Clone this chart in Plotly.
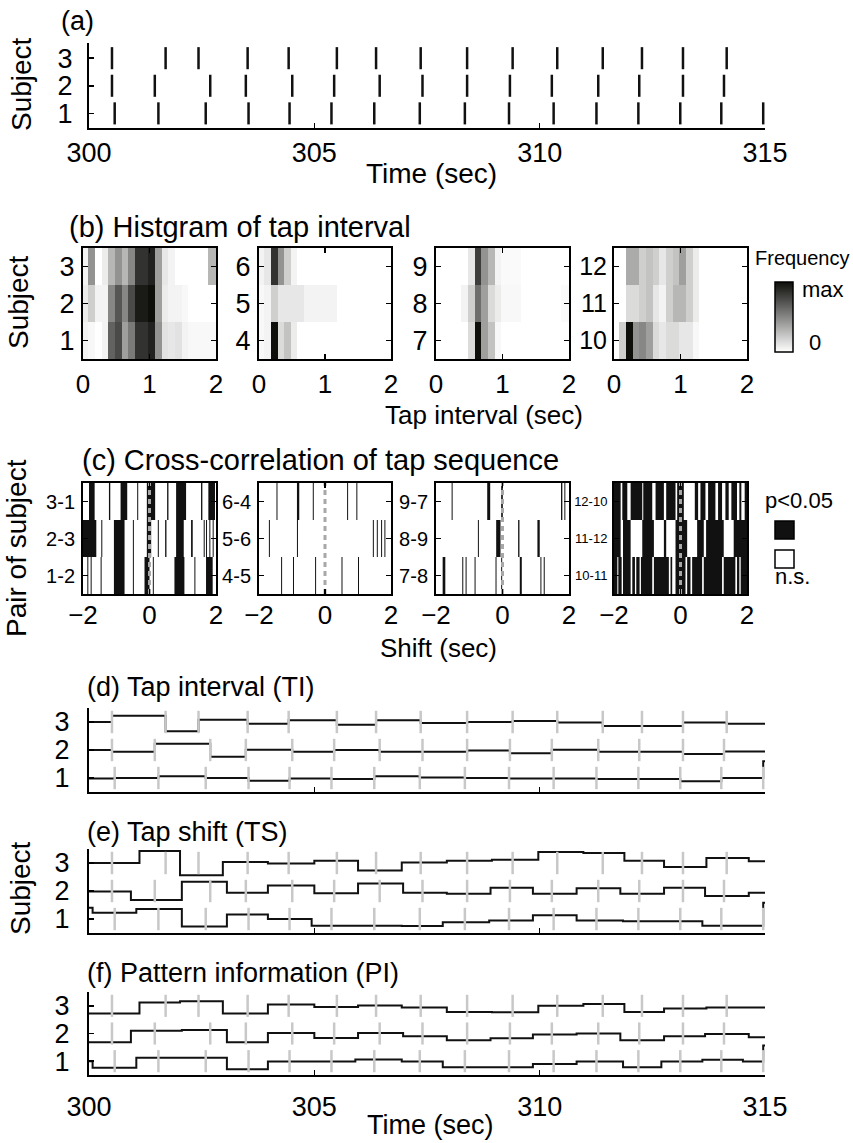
import plotly.graph_objects as go

W, H = 853, 1143
FONT = "Liberation Sans, Arial, Helvetica, sans-serif"
BLACK = "#111111"
GRAY = "#c8c8c8"

# ---------------- data ----------------
time_ticks = [300, 305, 310, 315]
subject_rows = [1, 2, 3]

# (a) tap times (sec)
taps_s1 = [300.57, 301.54, 302.59, 303.54, 304.45, 305.38, 306.33, 307.34, 308.34,
           309.32, 310.31, 311.26, 312.19, 313.12, 314.03, 314.96]
taps_s2 = [300.51, 301.46, 302.69, 303.48, 304.51, 305.44, 306.45, 307.40, 308.39,
           309.34, 310.27, 311.30, 312.21, 313.18, 314.09]
taps_s3 = [300.51, 301.70, 302.43, 303.52, 304.43, 305.50, 306.37, 307.36, 308.39,
           309.40, 310.39, 311.40, 312.27, 313.18, 314.15]

# (b) histogram of tap interval (normalised frequency), bin edges in sec
hist_edges = [-0.02, 0.08, 0.18, 0.28, 0.38, 0.48, 0.58, 0.68, 0.78, 0.88, 0.98,
              1.08, 1.18, 1.28, 1.38, 1.48, 1.58, 1.68, 1.78, 1.88, 1.98, 2.08]
hist_subj_1 = [0.05, 0.03, 0.0, 0.05, 0.65, 0.75, 0.4, 0.55, 0.85, 0.85, 0.92, 0.45, 0.12, 0.1, 0.12, 0.05, 0.03, 0.03, 0.03, 0.03, 0.03]
hist_subj_2 = [0.08, 0.2, 0.05, 0.05, 0.5, 0.7, 0.5, 0.75, 0.95, 0.95, 1.0, 0.4, 0.08, 0.05, 0.05, 0.03, 0, 0, 0, 0, 0]
hist_subj_3 = [0.05, 0.45, 0.0, 0.08, 0.3, 0.45, 0.3, 0.5, 0.85, 0.85, 0.92, 0.4, 0.1, 0.05, 0, 0, 0, 0, 0, 0.3, 0.3]
hist_subj_4 = [0.03, 0.05, 1.0, 0.15, 0.25, 0.08, 0, 0, 0, 0, 0, 0, 0, 0, 0, 0, 0, 0, 0, 0, 0]
hist_subj_5 = [0.03, 0.05, 0.2, 0.1, 0.1, 0.1, 0.1, 0.05, 0.05, 0.05, 0.05, 0.05, 0, 0, 0, 0, 0, 0, 0, 0, 0]
hist_subj_6 = [0.05, 0.1, 0.85, 0.45, 0.2, 0.05, 0, 0, 0, 0, 0, 0, 0, 0, 0, 0, 0, 0, 0, 0, 0]
hist_subj_7 = [0, 0, 0, 0, 0, 0.15, 1.0, 0.4, 0.25, 0.03, 0, 0, 0, 0, 0, 0, 0, 0, 0, 0, 0]
hist_subj_8 = [0, 0, 0, 0, 0.05, 0.2, 0.6, 0.4, 0.15, 0.08, 0.03, 0.03, 0.03, 0, 0, 0, 0, 0, 0, 0.02, 0.02]
hist_subj_9 = [0, 0, 0, 0, 0, 0.1, 0.8, 0.45, 0.3, 0.05, 0.02, 0.02, 0.02, 0, 0, 0, 0, 0, 0, 0, 0]
hist_subj_10 = [0, 0.2, 1.0, 0.45, 0.5, 0.4, 0.15, 0.1, 0.15, 0.15, 0.1, 0.1, 0.03, 0, 0, 0, 0, 0, 0, 0, 0]
hist_subj_11 = [0, 0, 0.15, 0.15, 0.2, 0.25, 0.1, 0.05, 0.2, 0.3, 0.3, 0.2, 0.08, 0, 0, 0, 0, 0, 0, 0, 0]
hist_subj_12 = [0, 0, 0.35, 0.35, 0.2, 0.25, 0.2, 0.1, 0.2, 0.25, 0.4, 0.2, 0.08, 0, 0, 0, 0, 0, 0, 0, 0]
hist_groups = [[1, 2, 3], [4, 5, 6], [7, 8, 9], [10, 11, 12]]
hist_ticks = [0, 1, 2]

# (c) significant (p<0.05) shift intervals [start, end] in sec, per pair
cc_pair_labels = [["1-2", "2-3", "3-1"], ["4-5", "5-6", "6-4"],
                  ["7-8", "8-9", "9-7"], ["10-11", "11-12", "12-10"]]
cc_1_2 = [[-1.87, -1.84], [-1.77, -1.74], [-1.47, -1.44], [-1.07, -0.75], [-0.5, -0.47],
          [-0.15, 0.0], [0.1, 0.13], [0.75, 1.05], [1.35, 1.38], [1.70, 1.90]]
cc_2_3 = [[-2.0, -1.6], [-1.45, -1.42], [-1.07, -0.75], [-0.5, -0.47], [-0.08, 0.05],
          [0.25, 0.28], [0.47, 0.51], [0.80, 1.03], [1.25, 1.30], [1.63, 1.66],
          [1.70, 1.73], [1.80, 1.83], [1.90, 1.93]]
cc_3_1 = [[-1.82, -1.65], [-1.22, -1.18], [-0.87, -0.67], [-0.37, -0.34], [-0.08, 0.17],
          [0.53, 0.57], [0.80, 1.10], [1.55, 1.59], [1.77, 1.97]]
cc_4_5 = [[-1.33, -1.30], [-0.97, -0.94], [-0.30, -0.27], [0.50, 0.53], [1.00, 1.03]]
cc_5_6 = [[-1.70, -1.67], [-0.85, -0.82], [1.45, 1.48], [1.57, 1.60], [1.70, 1.73], [1.80, 1.83]]
cc_6_4 = [[-1.47, -1.44], [-0.85, -0.78], [-0.37, -0.34], [0.67, 0.70], [0.95, 0.98]]
cc_7_8 = [[-1.80, -1.72], [-1.21, -1.18], [-1.11, -1.08], [-0.84, -0.81], [-0.21, -0.18],
          [-0.04, -0.01], [0.52, 0.58], [1.14, 1.17], [1.24, 1.27]]
cc_8_9 = [[-0.74, -0.71], [-0.19, -0.06], [0.47, 0.51], [1.05, 1.12]]
cc_9_7 = [[-1.53, -1.50], [-0.46, -0.37], [-0.04, 0.01], [1.76, 1.80], [1.86, 1.89]]
cc_10_11 = [[-2.0, -1.9], [-1.87, -1.77], [-1.73, -1.5], [-1.45, -1.37], [-1.33, -1.23],
            [-1.19, -0.85], [-0.8, -0.35], [-0.3, -0.25], [-0.15, 0.15], [0.2, 0.3],
            [0.35, 0.65], [0.7, 1.25], [1.3, 1.65], [1.7, 1.77], [1.81, 2.0]]
cc_11_12 = [[-2.0, -1.8], [-1.73, -1.5], [-1.15, -0.8], [-0.5, -0.43], [-0.15, 0.2],
            [0.5, 0.7], [0.77, 1.3], [1.6, 2.0]]
cc_12_10 = [[-2.0, -1.8], [-1.75, -1.6], [-1.5, -1.15], [-1.12, -0.85], [-0.75, -0.5],
            [-0.43, -0.15], [-0.1, 0.1], [0.43, 0.53], [0.6, 0.75], [0.83, 1.05],
            [1.13, 1.25], [1.35, 1.45], [1.53, 1.7], [1.77, 1.83], [1.93, 2.0]]
cc_panels = [[cc_1_2, cc_2_3, cc_3_1], [cc_4_5, cc_5_6, cc_6_4],
             [cc_7_8, cc_8_9, cc_9_7], [cc_10_11, cc_11_12, cc_12_10]]
shift_ticks = [-2, 0, 2]

# (d) tap interval: level per segment between taps (offset from subject row)
ti_s1 = [-0.02, 0.0, 0.06, 0.0, -0.10, -0.02, -0.04, 0.06, 0.02, 0.0, -0.02, -0.02,
         -0.04, -0.04, -0.12, 0.0, 0.6]
ti_s2 = [0.0, -0.06, 0.22, -0.24, 0.01, -0.06, 0.0, -0.06, -0.06, -0.02, -0.12, 0.01,
         -0.06, -0.06, -0.14, -0.05]
ti_s3 = [0.0, 0.22, -0.33, 0.08, -0.06, 0.06, -0.10, 0.06, -0.04, 0.0, 0.04, -0.02,
         -0.14, -0.14, -0.02, -0.06]

# (e),(f) change times of tap shift / pattern information
tsp_breaks_s1 = [300.08, 301.05, 302.06, 303.06, 303.97, 304.94, 305.91, 306.94, 307.85,
                 308.88, 309.85, 310.82, 311.85, 312.70, 313.61, 314.51, 314.96]
tsp_breaks_s2 = [300.93, 302.06, 303.06, 303.97, 305.00, 305.97, 306.97, 307.94, 308.91,
                 309.85, 310.82, 311.79, 312.76, 313.67, 314.64]
tsp_breaks_s3 = [301.12, 302.02, 302.97, 303.97, 305.00, 305.97, 306.94, 307.94, 308.94,
                 309.97, 310.97, 311.88, 312.76, 313.70, 314.64]
# (e) tap shift levels
ts_s1 = [0.4, 0.22, 0.36, -0.27, 0.16, 0.0, -0.24, -0.24, -0.25, -0.12, -0.05, 0.13,
         -0.05, -0.08, -0.08, -0.24, -0.24, 0.58]
ts_s2 = [-0.02, -0.32, 0.33, -0.06, 0.20, -0.08, 0.27, -0.06, -0.10, 0.12, -0.10, 0.10,
         -0.10, 0.12, -0.18, -0.06]
ts_s3 = [0.0, 0.43, -0.44, 0.04, -0.02, 0.08, -0.27, 0.02, 0.08, 0.12, 0.39, 0.36, 0.08,
         -0.14, 0.18, 0.06]
# (f) pattern information levels
pi_s1 = [0.0, -0.24, 0.12, 0.12, -0.29, -0.01, -0.01, 0.06, -0.01, -0.22, -0.22, -0.10,
         -0.01, -0.22, -0.01, 0.05, -0.01, 0.57]
pi_s2 = [-0.32, 0.10, 0.13, -0.32, 0.02, -0.16, 0.02, -0.10, -0.24, -0.17, -0.04, 0.0,
         -0.24, -0.10, -0.02, -0.14]
pi_s3 = [-0.28, 0.12, 0.17, -0.28, 0.05, -0.04, 0.01, -0.06, -0.22, -0.23, 0.0, 0.07,
         -0.22, -0.10, -0.06, -0.06]

# ---------------- helpers ----------------
def px(x):
    return x / W


def py(y):
    return 1 - y / H


def seg_lines(times, center, half):
    xs, ys = [], []
    for t in times:
        xs += [t, t, None]
        ys += [center - half, center + half, None]
    return xs, ys


layout = dict(width=W, height=H, margin=dict(l=0, r=0, t=0, b=0, pad=0, autoexpand=False),
              paper_bgcolor="white", plot_bgcolor="white", showlegend=False,
              barmode="overlay", font=dict(family=FONT, color="black"))
fig = go.Figure()


def axname(n, kind):
    return f"{kind}axis" if n == 1 else f"{kind}axis{n}"


def ref(n, kind):
    return kind if n == 1 else f"{kind}{n}"


def set_axes(n, xdom, ydom, xrange, yrange, xt, yt, xtext=None, ytext=None,
             box=False, xlabels=True, fs=26, yfs=26, xstand=8, ystand=10):
    common = dict(showline=True, linecolor="black", linewidth=2, ticks="inside",
                  ticklen=5, tickwidth=1.5, tickcolor="black", showgrid=False,
                  zeroline=False, mirror="ticks" if box else False, fixedrange=True,
                  automargin=False)
    layout[axname(n, "x")] = dict(common, domain=[px(xdom[0]), px(xdom[1])], range=xrange,
                                  tickvals=xt, ticktext=xtext, anchor=ref(n, "y"),
                                  showticklabels=xlabels, ticklabelstandoff=xstand,
                                  tickfont=dict(size=fs, family=FONT, color="black"))
    layout[axname(n, "y")] = dict(common, domain=[py(ydom[1]), py(ydom[0])], range=yrange,
                                  tickvals=yt, ticktext=ytext, anchor=ref(n, "x"),
                                  ticklabelstandoff=ystand,
                                  tickfont=dict(size=yfs, family=FONT, color="black"))


LONG_X = [89, 765]

# ---------------- (a) raster ----------------
set_axes(1, LONG_X, [43, 128], [300, 315], [0.47, 3.55], time_ticks, subject_rows,
         fs=27, yfs=27, xstand=0, ystand=9)
for taps, s in [(taps_s1, 1), (taps_s2, 2), (taps_s3, 3)]:
    xs, ys = seg_lines(taps, s, 0.4)
    fig.add_trace(go.Scatter(x=xs, y=ys, mode="lines", line=dict(color=BLACK, width=2.5),
                             xaxis="x", yaxis="y", hoverinfo="skip"))

# ---------------- (b) histograms ----------------
B_X = [[83, 216], [259, 391], [436, 569], [614, 747]]
hist_all = {1: hist_subj_1, 2: hist_subj_2, 3: hist_subj_3, 4: hist_subj_4,
            5: hist_subj_5, 6: hist_subj_6, 7: hist_subj_7, 8: hist_subj_8,
            9: hist_subj_9, 10: hist_subj_10, 11: hist_subj_11, 12: hist_subj_12}
cscale = [[0, "#ffffff"], [1, "#0e0f0b"]]
for i, grp in enumerate(hist_groups):
    n = 2 + i
    set_axes(n, B_X[i], [248, 359], [0, 2], [grp[0] - 0.5, grp[2] + 0.5], hist_ticks, grp,
             box=True, xstand=1, ystand=1 if i < 3 else 0, fs=26, yfs=27 if i < 3 else 25)
    fig.add_trace(go.Heatmap(
        x=hist_edges, y=grp, z=[hist_all[s] for s in grp], zmin=0, zmax=1,
        colorscale=cscale, showscale=(i == 0), xaxis=ref(n, "x"), yaxis=ref(n, "y"),
        hoverinfo="skip",
        colorbar=dict(x=px(775), xanchor="left", y=py(317), yanchor="middle",
                      len=70, lenmode="pixels", thickness=18, thicknessmode="pixels",
                      outlinewidth=1.5, outlinecolor="black", showticklabels=False,
                      ticks="", xpad=0, ypad=0)))

# ---------------- (c) cross-correlation ----------------
for i in range(4):
    n = 6 + i
    set_axes(n, B_X[i], [483, 594], [-2, 2], [0.5, 3.5], shift_ticks, [1, 2, 3],
             ytext=cc_pair_labels[i], box=True, xstand=-3, ystand=2, fs=26,
             yfs=20 if i < 3 else 13)
    for r, rows in enumerate(cc_panels[i]):
        fig.add_trace(go.Bar(orientation="h", y=[r + 1] * len(rows),
                             base=[a for a, b in rows], x=[b - a for a, b in rows],
                             width=1.0, marker=dict(color=BLACK, line=dict(width=0)),
                             xaxis=ref(n, "x"), yaxis=ref(n, "y"), hoverinfo="skip"))
    fig.add_trace(go.Scatter(x=[0, 0], y=[0.5, 3.5], mode="lines",
                             line=dict(color="#a8a8a8", width=3, dash="5px,4px"),
                             xaxis=ref(n, "x"), yaxis=ref(n, "y"), hoverinfo="skip"))

# ---------------- (d),(e),(f) step traces ----------------
step_panels = [
    (10, [708, 792], [(taps_s1, ti_s1), (taps_s2, ti_s2), (taps_s3, ti_s3)], False),
    (11, [849, 933], [(tsp_breaks_s1, ts_s1), (tsp_breaks_s2, ts_s2), (tsp_breaks_s3, ts_s3)], False),
    (12, [992, 1075], [(tsp_breaks_s1, pi_s1), (tsp_breaks_s2, pi_s2), (tsp_breaks_s3, pi_s3)], True),
]
for n, ydom, series, lab in step_panels:
    set_axes(n, LONG_X, ydom, [300, 315], [0.5, 3.5], time_ticks, subject_rows,
             xlabels=lab, fs=27, yfs=27, xstand=7, ystand=12)
    for s, (brk, vals) in enumerate(series, start=1):
        xs = [300] + brk + [315]
        ys = [s + v for v in vals] + [s + vals[-1]]
        fig.add_trace(go.Scatter(x=xs, y=ys, mode="lines", line=dict(color=BLACK, width=2, shape="hv"),
                                 xaxis=ref(n, "x"), yaxis=ref(n, "y"), hoverinfo="skip"))
    for taps, s in [(taps_s1, 1), (taps_s2, 2), (taps_s3, 3)]:
        xs, ys = seg_lines(taps, s, 0.4)
        fig.add_trace(go.Scatter(x=xs, y=ys, mode="lines", line=dict(color=GRAY, width=2.5),
                                 xaxis=ref(n, "x"), yaxis=ref(n, "y"), hoverinfo="skip"))

# ---------------- text ----------------
ann = []


def text(t, x, y, size=27, anchor="center", angle=0):
    ann.append(dict(text=t, x=px(x), y=py(y), xref="paper", yref="paper", showarrow=False,
                    xanchor=anchor, yanchor="middle", textangle=angle,
                    font=dict(size=size, family=FONT, color="black")))


text("(a)", 77, 21, 27)
text("Subject", 22, 84, 28, angle=-90)
text("Time (sec)", 432, 173, 28)
text("(b) Histgram of tap interval", 67, 227, 29, "left")
text("Subject", 18, 302, 28, angle=-90)
text("Tap interval (sec)", 484, 415, 26)
text("Frequency", 753, 258, 20, "left")
text("max", 800, 289, 22, "left")
text("0", 807, 343, 22, "left")
text("(c) Cross-correlation of tap sequence", 80, 460, 29, "left")
text("Pair of subject", 16, 548, 28, angle=-90)
text("Shift (sec)", 438, 648, 26)
text("p<0.05", 763, 500, 22, "left")
text("n.s.", 773, 576, 22, "left")
text("(d) Tap interval (TI)", 85, 687, 27, "left")
text("(e) Tap shift (TS)", 85, 832, 27, "left")
text("Subject", 20, 888, 28, angle=-90)
text("(f) Pattern information (PI)", 85, 973, 27, "left")
text("Time (sec)", 430, 1125, 27)
layout["annotations"] = ann

# legend swatches for (c)
layout["shapes"] = [
    dict(type="rect", xref="paper", yref="paper", x0=px(775), x1=px(794), y0=py(539), y1=py(521),
         fillcolor=BLACK, line=dict(color="black", width=1.5)),
    dict(type="rect", xref="paper", yref="paper", x0=px(775), x1=px(794), y0=py(568), y1=py(550),
         fillcolor="white", line=dict(color="black", width=1.5)),
]

fig.update_layout(**layout)
fig.write_html("out.html", config={"displayModeBar": False, "staticPlot": True},
               post_script="document.body.style.margin='0px';")
